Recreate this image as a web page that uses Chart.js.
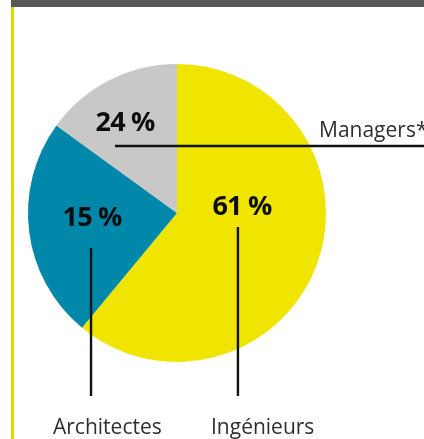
<!DOCTYPE html>
<html>
<head>
<meta charset="utf-8">
<script src="https://cdn.jsdelivr.net/npm/chart.js@4"></script>
<style>
  html, body { margin: 0; padding: 0; background: #fff; }
  #wrap { position: relative; width: 424px; height: 439px; overflow: hidden; }
  #topbar { position: absolute; left: 11px; top: 0; width: 413px; height: 7px; background: #575756; }
  #sidebar { position: absolute; left: 11px; top: 7px; width: 3px; height: 432px; background: #e3d700; }
  #c { position: absolute; left: 0; top: 0; }
</style>
</head>
<body>
<div id="wrap">
  <div id="topbar"></div>
  <div id="sidebar"></div>
  <canvas id="c" width="424" height="439"></canvas>
</div>
<script>
// slices as drawn (clockwise from the top)
const categories = ['Ingénieurs', 'Architectes', 'Managers*'];
const sliceValues = [61, 24, 15];
// percentages as printed on the slices
const printedPercents = ['61 %', '15 %', '24 %'];
const sliceColors = ['#f0e500', '#0087a9', '#c8c8c7'];

// label placement, in fractions of the radius from the pie centre
const pctPos = [[0.436, -0.04], [-0.57, 0.034], [-0.349, -0.6]];

const labelPlugin = {
    id: 'labels',
    afterDraw(chart) {
        const ctx = chart.ctx;
        const arc = chart.getDatasetMeta(0).data[0];
        const cx = arc.x, cy = arc.y, r = arc.outerRadius;

        // percentages
        ctx.save();
        ctx.fillStyle = '#0d0d0d';
        ctx.font = 'bold 27px "Open Sans"';
        ctx.textAlign = 'center';
        ctx.textBaseline = 'middle';
        ctx.letterSpacing = '-0.8px';
        printedPercents.forEach((t, i) => {
            ctx.fillText(t, cx + pctPos[i][0] * r, cy + pctPos[i][1] * r);
        });
        ctx.restore();

        // leader lines
        ctx.save();
        ctx.strokeStyle = '#111111';
        ctx.lineWidth = 2.4;
        ctx.beginPath();
        // Managers* (horizontal, to the right edge)
        ctx.moveTo(cx - 0.416 * r, cy - 0.45 * r);
        ctx.lineTo(chart.width, cy - 0.45 * r);
        // Ingénieurs
        ctx.moveTo(cx + 0.409 * r, cy + 0.094 * r);
        ctx.lineTo(cx + 0.409 * r, cy + 1.228 * r);
        // Architectes
        ctx.moveTo(cx - 0.577 * r, cy + 0.235 * r);
        ctx.lineTo(cx - 0.577 * r, cy + 1.228 * r);
        ctx.stroke();
        ctx.restore();

        // category names
        ctx.save();
        ctx.fillStyle = '#2e2e2e';
        ctx.font = '21px "Open Sans"';
        ctx.textAlign = 'left';
        ctx.textBaseline = 'alphabetic';
        ctx.fillText(categories[2], cx + 0.953 * r, cy - 76);
        ctx.fillText(categories[1], cx - 124, cy + 221);
        ctx.fillText(categories[0], cx + 34, cy + 221);
        ctx.restore();
    }
};

new Chart(document.getElementById('c').getContext('2d'), {
    type: 'pie',
    data: {
        labels: categories,
        datasets: [{
            data: sliceValues,
            backgroundColor: sliceColors,
            borderWidth: 0
        }]
    },
    options: {
        responsive: false,
        animation: false,
        layout: { padding: { left: 28, right: 98, top: 64, bottom: 77 } },
        plugins: {
            legend: { display: false },
            tooltip: { enabled: false }
        }
    },
    plugins: [labelPlugin]
});
</script>
</body>
</html>
